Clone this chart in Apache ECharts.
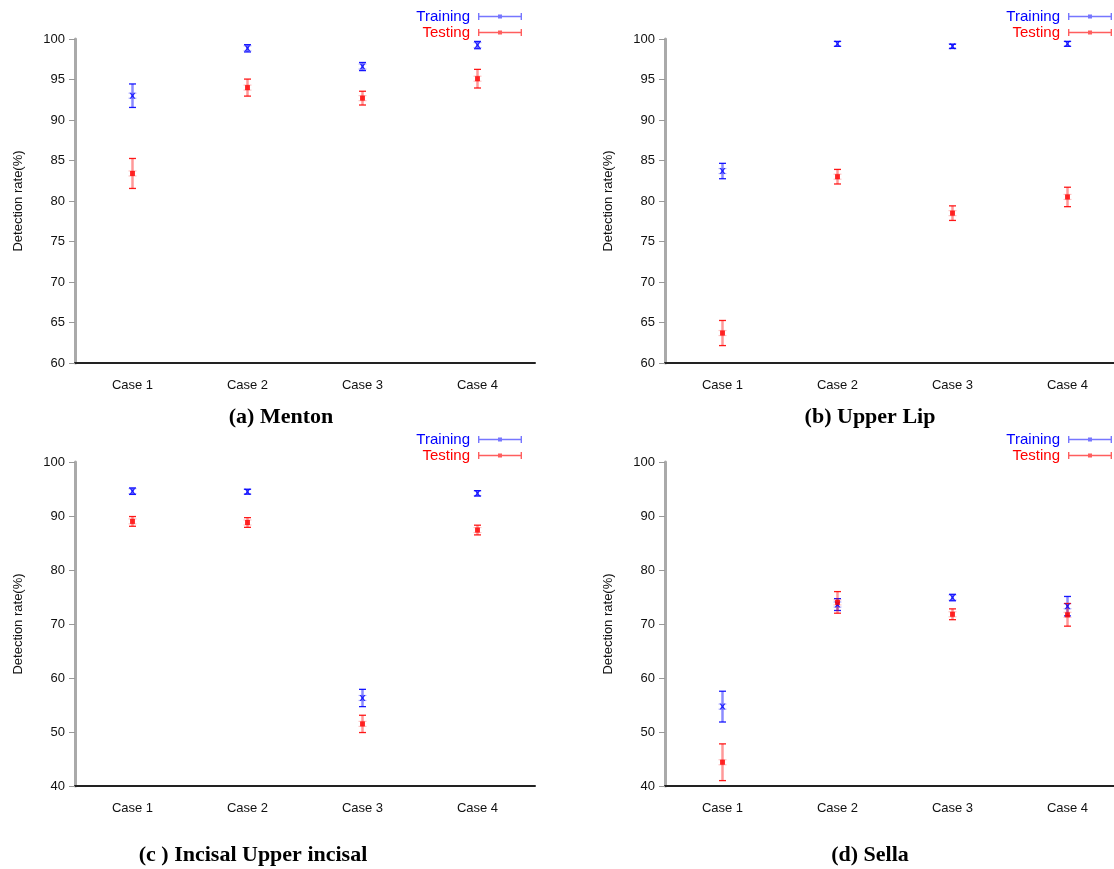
<!DOCTYPE html>
<html><head><meta charset="utf-8">
<script src="https://cdn.jsdelivr.net/npm/echarts/dist/echarts.min.js"></script>
<style>html,body{margin:0;padding:0;background:#fff;overflow:hidden;width:1114px;height:869px}#c{width:1130px;height:869px}</style>
</head><body><div id="c"></div>
<script>
const categories = ['Case 1', 'Case 2', 'Case 3', 'Case 4'];
const seriesNames = ['Training', 'Testing'];
const captions = ['(a) Menton', '(b) Upper Lip', '(c ) Incisal Upper incisal', '(d) Sella'];
const yAxisTitle = 'Detection rate(%)';

// (a) Menton
const mentonTrain = [93.0, 98.85, 96.6, 99.25];
const mentonTrainErr = [1.45, 0.45, 0.5, 0.45];
const mentonTest = [83.4, 94.0, 92.7, 95.1];
const mentonTestErr = [1.85, 1.05, 0.85, 1.15];
// (b) Upper Lip
const lipTrain = [83.7, 99.4, 99.1, 99.4];
const lipTrainErr = [0.95, 0.3, 0.25, 0.3];
const lipTest = [63.7, 83.0, 78.5, 80.5];
const lipTestErr = [1.55, 0.9, 0.9, 1.2];
// (c) Incisal
const incisalTrain = [94.6, 94.5, 56.3, 94.2];
const incisalTrainErr = [0.6, 0.45, 1.6, 0.5];
const incisalTest = [89.0, 88.8, 51.5, 87.4];
const incisalTestErr = [0.9, 0.9, 1.6, 0.9];
// (d) Sella
const sellaTrain = [54.7, 73.6, 74.9, 73.3];
const sellaTrainErr = [2.85, 1.1, 0.6, 1.8];
const sellaTest = [44.4, 74.0, 71.8, 71.7];
const sellaTestErr = [3.4, 2.0, 1.0, 2.1];

const yMins = [60, 60, 40, 40];
const yMaxs = [100, 100, 100, 100];
const yIntervals = [5, 5, 10, 10];

const panels = [
  [mentonTrain, mentonTrainErr, mentonTest, mentonTestErr],
  [lipTrain, lipTrainErr, lipTest, lipTestErr],
  [incisalTrain, incisalTrainErr, incisalTest, incisalTestErr],
  [sellaTrain, sellaTrainErr, sellaTest, sellaTestErr]
];

const layout = [
  {left: 75, top: 39, width: 460, height: 324},
  {left: 665, top: 39, width: 460, height: 324},
  {left: 75, top: 462, width: 460, height: 324},
  {left: 665, top: 462, width: 460, height: 324}
];
const capPos = [[281, 417], [870, 417], [253, 855], [870, 855]];
const legendPos = [{right: 608, top: 9}, {right: 18, top: 9}, {right: 608, top: 432}, {right: 18, top: 432}];

const colors = {
  Training: {dark: 'rgba(0,0,255,0.9)', light: 'rgba(0,0,255,0.45)', solid: '#0000ff'},
  Testing: {dark: 'rgba(255,0,0,0.9)', light: 'rgba(255,0,0,0.4)', solid: '#ff0000'}
};
const xMark = 'path://M0,0L2,0L5,3L8,0L10,0L6.5,5L10,10L8,10L5,7L2,10L0,10L3.5,5Z';
const legendIcon = 'path://M0,3.3h44v1.4h-44z M0,0.5h1.4v7h-1.4z M42.6,0.5h1.4v7h-1.4z M20,2h4v4h-4z M0,0h0.01v8h-0.01z';

function errRender(name) {
  const c = colors[name];
  return function (params, api) {
    const x = api.value(0);
    const lo = api.coord([x, api.value(1)]);
    const hi = api.coord([x, api.value(2)]);
    const mid = api.coord([x, (api.value(1) + api.value(2)) / 2]);
    return {
      type: 'group',
      children: [
        {type: 'line', shape: {x1: lo[0], y1: lo[1], x2: hi[0], y2: hi[1]}, style: {stroke: c.light, lineWidth: 2.5}},
        {type: 'line', shape: {x1: lo[0] - 3.5, y1: lo[1], x2: lo[0] + 3.5, y2: lo[1]}, style: {stroke: c.dark, lineWidth: 1.3}},
        {type: 'line', shape: {x1: hi[0] - 3.5, y1: hi[1], x2: hi[0] + 3.5, y2: hi[1]}, style: {stroke: c.dark, lineWidth: 1.3}},
        {type: 'line', shape: {x1: mid[0] - 4, y1: mid[1] - 2.5, x2: mid[0] + 4, y2: mid[1] - 2.5}, style: {stroke: c.light, lineWidth: 1.2, opacity: 0.6}},
        {type: 'line', shape: {x1: mid[0] - 4, y1: mid[1] + 2.5, x2: mid[0] + 4, y2: mid[1] + 2.5}, style: {stroke: c.light, lineWidth: 1.2, opacity: 0.6}}
      ]
    };
  };
}

const grid = [], xAxis = [], yAxis = [], series = [], legend = [], graphic = [];
panels.forEach((p, i) => {
  grid.push(Object.assign({}, layout[i]));
  xAxis.push({
    type: 'category', gridIndex: i, data: categories,
    axisLine: {lineStyle: {color: '#222', width: 2}},
    axisTick: {alignWithLabel: true, length: 5, lineStyle: {color: '#999', width: 2}},
    axisLabel: {color: '#111', fontSize: 13, margin: 16, fontFamily: 'Liberation Sans'}
  });
  yAxis.push({
    type: 'value', gridIndex: i, min: yMins[i], max: yMaxs[i], interval: yIntervals[i],
    name: yAxisTitle, nameLocation: 'middle', nameGap: 50, nameRotate: 90,
    nameTextStyle: {color: '#111', fontSize: 13, fontFamily: 'Liberation Sans'},
    axisLine: {show: true, lineStyle: {color: '#aaa', width: 3}},
    axisTick: {show: true, length: 6, lineStyle: {color: '#999', width: 1}},
    splitLine: {show: false},
    axisLabel: {color: '#111', fontSize: 13, margin: 10, fontFamily: 'Liberation Sans'}
  });
  [[p[0], p[1], 'Training'], [p[2], p[3], 'Testing']].forEach(([vals, errs, name]) => {
    series.push({
      type: 'custom', name: name, xAxisIndex: i, yAxisIndex: i,
      data: vals.map((v, k) => [k, v - errs[k], v + errs[k]]),
      encode: {x: 0, y: [1, 2]}, renderItem: errRender(name), z: 2,
      itemStyle: {color: colors[name].solid}
    });
    series.push({
      type: 'scatter', name: name, xAxisIndex: i, yAxisIndex: i,
      data: vals, symbol: name === 'Training' ? xMark : 'rect',
      symbolSize: name === 'Training' ? 6 : 5,
      itemStyle: {color: colors[name].solid}, z: 3
    });
  });
  legend.push(Object.assign({
    orient: 'vertical', align: 'right', itemWidth: 44, itemHeight: 8, itemGap: 1, padding: 0,
    icon: legendIcon,
    textStyle: {fontSize: 15, fontFamily: 'Liberation Sans', padding: [0, 3, 0, 0]},
    data: [
      {name: 'Training', textStyle: {color: '#0000ff'}, itemStyle: {color: 'rgba(60,60,255,0.7)'}},
      {name: 'Testing', textStyle: {color: '#ff0000'}, itemStyle: {color: 'rgba(255,40,40,0.75)'}}
    ]
  }, legendPos[i]));
  graphic.push({
    type: 'text', x: capPos[i][0], y: capPos[i][1],
    style: {text: captions[i], textAlign: 'center', textVerticalAlign: 'middle',
      font: 'bold 22px "Liberation Serif", "Times New Roman", serif', fill: '#000'}
  });
});

const chart = echarts.init(document.getElementById('c'));
chart.setOption({animation: false, grid, xAxis, yAxis, series, legend, graphic});
</script>
</body></html>
